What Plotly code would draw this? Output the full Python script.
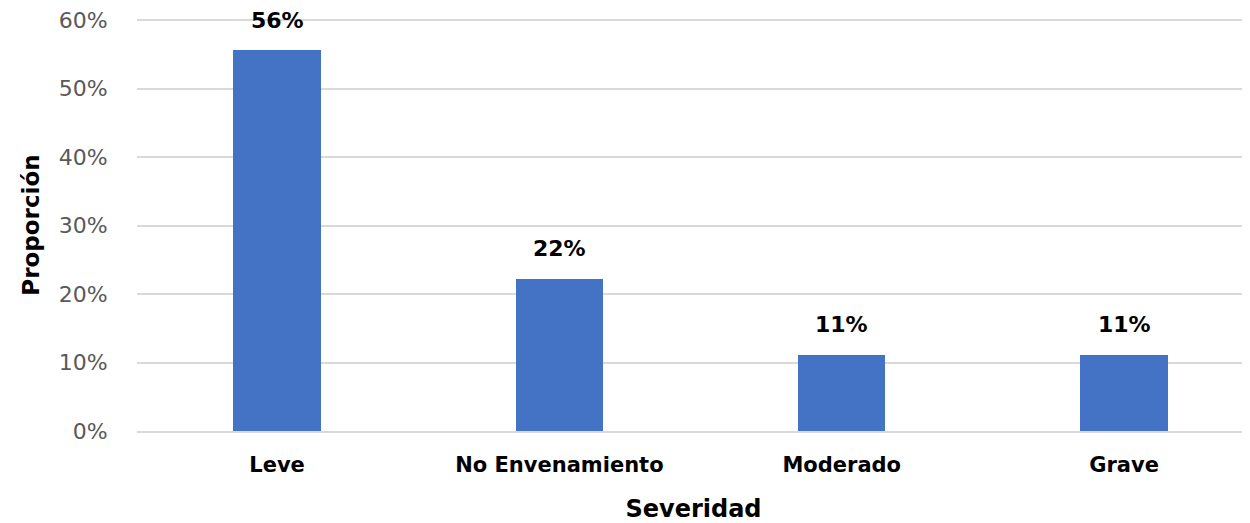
import plotly.graph_objects as go

categories = ["Leve", "No Envenamiento", "Moderado", "Grave"]
values = [0.556, 0.222, 0.111, 0.111]
labels = ["56%", "22%", "11%", "11%"]
y_ticks = [0, 0.1, 0.2, 0.3, 0.4, 0.5, 0.6]
y_tick_labels = ["0%", "10%", "20%", "30%", "40%", "50%", "60%"]

FONT = "DejaVu Sans, Open Sans, sans-serif"

fig = go.Figure()
fig.add_trace(go.Bar(
    x=list(range(len(categories))), y=values,
    marker=dict(color="#4472C4", line=dict(width=0)),
    width=0.31, hoverinfo="skip",
))

for i, (v, t) in enumerate(zip(values, labels)):
    fig.add_annotation(x=i, y=v, text="<b>%s</b>" % t, showarrow=False,
                       yshift=30, font=dict(family=FONT, size=22, color="#000000"))

fig.update_layout(
    width=1242, height=515,
    margin=dict(l=129, r=0, t=11, b=92),
    paper_bgcolor="white", plot_bgcolor="white",
    showlegend=False,
    font=dict(family=FONT),
    bargap=0,
)
fig.update_xaxes(
    range=[-0.496, 3.446],
    tickmode="array", tickvals=list(range(len(categories))),
    ticktext=["<b>%s</b>" % c for c in categories],
    tickfont=dict(family=FONT, size=21, color="#000000"),
    showgrid=False, zeroline=False,
    showline=True, linecolor="#d9d9d9", linewidth=2,
    ticks="outside", ticklen=14, tickcolor="rgba(0,0,0,0)",
    title=dict(text="<b>Severidad</b>", font=dict(family=FONT, size=24, color="#000000"), standoff=24),
)
fig.update_yaxes(
    range=[0, 0.6015],
    tickmode="array", tickvals=y_ticks, ticktext=y_tick_labels,
    tickfont=dict(family=FONT, size=22, color="#595959"),
    ticklabeloverflow="allow",
    showgrid=True, gridcolor="#d9d9d9", gridwidth=2,
    zeroline=False, showline=False,
    ticks="outside", ticklen=24, tickcolor="rgba(0,0,0,0)",
    title=dict(text="<b>Proporción</b>", font=dict(family=FONT, size=23, color="#000000"), standoff=12),
)

fig.write_html("out.html")
